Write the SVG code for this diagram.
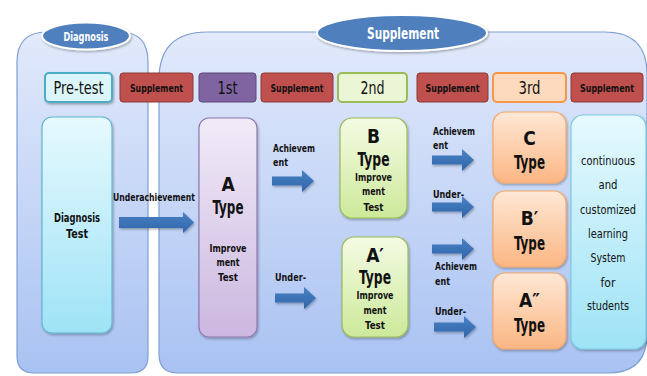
<svg xmlns="http://www.w3.org/2000/svg" width="647" height="376" viewBox="0 0 647 376">
<defs>
<linearGradient id="gCont" x1="0" y1="0" x2="0" y2="1"><stop offset="0" stop-color="#e2eafb"/><stop offset="1" stop-color="#a9c2f2"/></linearGradient>
<linearGradient id="gCyan" x1="0" y1="0" x2="0" y2="1"><stop offset="0" stop-color="#e6f9fe"/><stop offset="1" stop-color="#9ee3f6"/></linearGradient>
<linearGradient id="gPur" x1="0" y1="0" x2="0" y2="1"><stop offset="0" stop-color="#f1ebf8"/><stop offset="1" stop-color="#ccb7e0"/></linearGradient>
<linearGradient id="gGrn" x1="0" y1="0" x2="0" y2="1"><stop offset="0" stop-color="#f4fbe4"/><stop offset="1" stop-color="#cde99a"/></linearGradient>
<linearGradient id="gOra" x1="0" y1="0" x2="0" y2="1"><stop offset="0" stop-color="#fee8d6"/><stop offset="1" stop-color="#fbb683"/></linearGradient>
<linearGradient id="gArr" x1="0" y1="0" x2="0" y2="1"><stop offset="0" stop-color="#4a82c6"/><stop offset="1" stop-color="#2f64a8"/></linearGradient>
<filter id="sh" x="-10%" y="-10%" width="130%" height="130%"><feDropShadow dx="1" dy="1.5" stdDeviation="1.2" flood-color="#000" flood-opacity="0.3"/></filter>
</defs>
<style>
text{font-family:"DejaVu Sans Condensed","Liberation Sans Narrow","Liberation Sans",Arial,sans-serif;font-stretch:condensed;text-anchor:middle;fill:#111}
.cont{fill:url(#gCont);stroke:#7f9fd3;stroke-width:1.2}
.ell{fill:#4f7fbd;stroke:#fff;stroke-width:2;filter:url(#sh)}
.ellt{fill:#fff;font-weight:bold}
.sup{fill:#c0504d;stroke:#8c3836;stroke-width:1}
.supt{fill:#111;font-weight:bold;font-size:11px}
.hdr{font-size:17px}
.lbl{font-weight:bold;font-size:11px;text-anchor:start}
.big{font-weight:bold;font-size:19px}
.sm{font-weight:bold;font-size:11px}
.rt{font-size:13px}
.arr{fill:url(#gArr);filter:url(#sh)}
</style>
<rect width="647" height="376" fill="#fff"/>

<g id="diagnosis-panel">
<path class="cont" d="M17,62 Q17,32 47,32 L120,32 Q148,32 148,62 L148,356 Q148,373 131,373 L34,373 Q17,373 17,356 Z"/>
<ellipse class="ell" cx="86" cy="36" rx="44" ry="13.5"/>
<text class="ellt" x="86" y="40.5" font-size="12" textLength="45" lengthAdjust="spacingAndGlyphs">Diagnosis</text>
</g>

<g id="supplement-panel">
<path class="cont" d="M159,80 Q159,32 207,32 L605,32 Q647,32 647,74 L647,334 Q647,373 608,373 L178,373 Q159,373 159,354 Z"/>
<ellipse class="ell" cx="402" cy="33" rx="85" ry="18"/>
<text class="ellt" x="403" y="38.5" font-size="15" textLength="72" lengthAdjust="spacingAndGlyphs">Supplement</text>
</g>

<g id="pretest">
<rect x="45" y="73" width="67" height="29" rx="4" fill="#dcf5fb" stroke="#4bacc6" stroke-width="2" filter="url(#sh)"/>
<text class="hdr" x="78.5" y="94" textLength="50" lengthAdjust="spacingAndGlyphs">Pre-test</text>
</g>
<g id="sup1"><rect class="sup" x="120" y="73" width="73" height="29" rx="3"/><text class="supt" x="156.5" y="91.5" textLength="53" lengthAdjust="spacingAndGlyphs">Supplement</text></g>
<g id="first">
<rect x="199" y="73" width="57" height="29" rx="3" fill="#8064a2" stroke="#5c4776" stroke-width="1"/>
<text class="hdr" x="227.5" y="94" textLength="20" lengthAdjust="spacingAndGlyphs">1st</text>
</g>
<g id="sup2"><rect class="sup" x="261" y="73" width="72" height="29" rx="3"/><text class="supt" x="297" y="91.5" textLength="53" lengthAdjust="spacingAndGlyphs">Supplement</text></g>
<g id="second">
<rect x="338" y="73" width="69" height="29" rx="4" fill="#ebf6d6" stroke="#9bbb59" stroke-width="2"/>
<text class="hdr" x="372.5" y="94" textLength="24" lengthAdjust="spacingAndGlyphs">2nd</text>
</g>
<g id="sup3"><rect class="sup" x="417" y="73" width="71" height="29" rx="3"/><text class="supt" x="452.5" y="91.5" textLength="54" lengthAdjust="spacingAndGlyphs">Supplement</text></g>
<g id="third">
<rect x="493" y="73" width="73" height="29" rx="4" fill="#fdd9bd" stroke="#f79646" stroke-width="2"/>
<text class="hdr" x="529.5" y="94" textLength="22" lengthAdjust="spacingAndGlyphs">3rd</text>
</g>
<g id="sup4"><rect class="sup" x="571" y="73" width="72" height="29" rx="3"/><text class="supt" x="607" y="91.5" textLength="54" lengthAdjust="spacingAndGlyphs">Supplement</text></g>

<g id="diagnosis-test">
<rect x="42" y="117" width="70" height="216" rx="10" fill="url(#gCyan)" stroke="#5fb8cf" stroke-width="1.2" filter="url(#sh)"/>
<text x="77" y="222" font-weight="bold" font-size="13" textLength="46" lengthAdjust="spacingAndGlyphs">Diagnosis</text>
<text x="77" y="238" font-weight="bold" font-size="13" textLength="22" lengthAdjust="spacingAndGlyphs">Test</text>
</g>

<g id="a-type">
<rect x="199" y="118" width="58" height="219" rx="10" fill="url(#gPur)" stroke="#8f78ad" stroke-width="1.2" filter="url(#sh)"/>
<text class="big" x="228" y="191">A</text>
<text class="big" x="228" y="214" textLength="31" lengthAdjust="spacingAndGlyphs">Type</text>
<text class="sm" x="228" y="252" textLength="37" lengthAdjust="spacingAndGlyphs">Improve</text>
<text class="sm" x="228" y="266" textLength="23" lengthAdjust="spacingAndGlyphs">ment</text>
<text class="sm" x="228" y="281" textLength="20" lengthAdjust="spacingAndGlyphs">Test</text>
</g>

<g id="b-type">
<rect x="340" y="118" width="67" height="100" rx="12" fill="url(#gGrn)" stroke="#9bbb59" stroke-width="1.2" filter="url(#sh)"/>
<text class="big" x="373.5" y="143">B</text>
<text class="big" x="373.5" y="166" textLength="32" lengthAdjust="spacingAndGlyphs">Type</text>
<text class="sm" x="373.5" y="181" textLength="37" lengthAdjust="spacingAndGlyphs">Improve</text>
<text class="sm" x="373.5" y="195" textLength="23" lengthAdjust="spacingAndGlyphs">ment</text>
<text class="sm" x="373.5" y="211" textLength="20" lengthAdjust="spacingAndGlyphs">Test</text>
</g>

<g id="a-prime-type">
<rect x="342" y="237" width="66" height="100" rx="12" fill="url(#gGrn)" stroke="#9bbb59" stroke-width="1.2" filter="url(#sh)"/>
<text class="big" x="375" y="262">A′</text>
<text class="big" x="375" y="284" textLength="32" lengthAdjust="spacingAndGlyphs">Type</text>
<text class="sm" x="375" y="299" textLength="37" lengthAdjust="spacingAndGlyphs">Improve</text>
<text class="sm" x="375" y="314" textLength="23" lengthAdjust="spacingAndGlyphs">ment</text>
<text class="sm" x="375" y="329" textLength="20" lengthAdjust="spacingAndGlyphs">Test</text>
</g>

<g id="c-type">
<rect x="493" y="112" width="73" height="71" rx="12" fill="url(#gOra)" stroke="#f5a66a" stroke-width="1.2" filter="url(#sh)"/>
<text class="big" x="529.5" y="145">C</text>
<text class="big" x="529.5" y="169" textLength="31" lengthAdjust="spacingAndGlyphs">Type</text>
</g>

<g id="b-prime-type">
<rect x="493" y="191" width="73" height="76" rx="12" fill="url(#gOra)" stroke="#f5a66a" stroke-width="1.2" filter="url(#sh)"/>
<text class="big" x="529.5" y="225">B′</text>
<text class="big" x="529.5" y="250" textLength="31" lengthAdjust="spacingAndGlyphs">Type</text>
</g>

<g id="a-double-prime-type">
<rect x="493" y="273" width="73" height="76" rx="12" fill="url(#gOra)" stroke="#f5a66a" stroke-width="1.2" filter="url(#sh)"/>
<text class="big" x="529.5" y="307">A″</text>
<text class="big" x="529.5" y="332" textLength="31" lengthAdjust="spacingAndGlyphs">Type</text>
</g>

<g id="continuous">
<rect x="571" y="115" width="75" height="234" rx="12" fill="url(#gCyan)" stroke="#7ccbe0" stroke-width="1.2" filter="url(#sh)"/>
<text class="rt" x="608" y="165" textLength="54" lengthAdjust="spacingAndGlyphs">continuous</text>
<text class="rt" x="608" y="189" textLength="19" lengthAdjust="spacingAndGlyphs">and</text>
<text class="rt" x="608" y="214" textLength="56" lengthAdjust="spacingAndGlyphs">customized</text>
<text class="rt" x="608" y="238" textLength="40" lengthAdjust="spacingAndGlyphs">learning</text>
<text class="rt" x="608" y="262" textLength="35" lengthAdjust="spacingAndGlyphs">System</text>
<text class="rt" x="608" y="287" textLength="15" lengthAdjust="spacingAndGlyphs">for</text>
<text class="rt" x="608" y="310" textLength="42" lengthAdjust="spacingAndGlyphs">students</text>
</g>

<g id="connectors">
<path class="arr" d="M119,217 L183,217 L183,212 L194,222.5 L183,233 L183,228 L119,228 Z"/>
<text class="lbl" x="113" y="201" textLength="82" lengthAdjust="spacingAndGlyphs">Underachievement</text>

<path class="arr" d="M272,176.5 L302,176.5 L302,170 L314,181 L302,192 L302,185.5 L272,185.5 Z"/>
<text class="lbl" x="273" y="152" textLength="42" lengthAdjust="spacingAndGlyphs">Achievem</text>
<text class="lbl" x="273" y="166" textLength="15" lengthAdjust="spacingAndGlyphs">ent</text>

<path class="arr" d="M275,293.5 L304,293.5 L304,287 L316,298 L304,309 L304,302.5 L275,302.5 Z"/>
<text class="lbl" x="275" y="281" textLength="31" lengthAdjust="spacingAndGlyphs">Under-</text>

<path class="arr" d="M432,155.5 L462,155.5 L462,149 L474,160 L462,171 L462,164.5 L432,164.5 Z"/>
<text class="lbl" x="433" y="135" textLength="42" lengthAdjust="spacingAndGlyphs">Achievem</text>
<text class="lbl" x="433" y="149" textLength="15" lengthAdjust="spacingAndGlyphs">ent</text>

<path class="arr" d="M432,202.5 L462,202.5 L462,196 L474,207 L462,218 L462,211.5 L432,211.5 Z"/>
<text class="lbl" x="433" y="198" textLength="31" lengthAdjust="spacingAndGlyphs">Under-</text>

<path class="arr" d="M432,244.5 L462,244.5 L462,238 L474,249 L462,260 L462,253.5 L432,253.5 Z"/>
<text class="lbl" x="435" y="270" textLength="42" lengthAdjust="spacingAndGlyphs">Achievem</text>
<text class="lbl" x="435" y="285" textLength="15" lengthAdjust="spacingAndGlyphs">ent</text>

<path class="arr" d="M434,322.5 L464,322.5 L464,316 L476,327 L464,338 L464,331.5 L434,331.5 Z"/>
<text class="lbl" x="435" y="315" textLength="31" lengthAdjust="spacingAndGlyphs">Under-</text>
</g>
</svg>
